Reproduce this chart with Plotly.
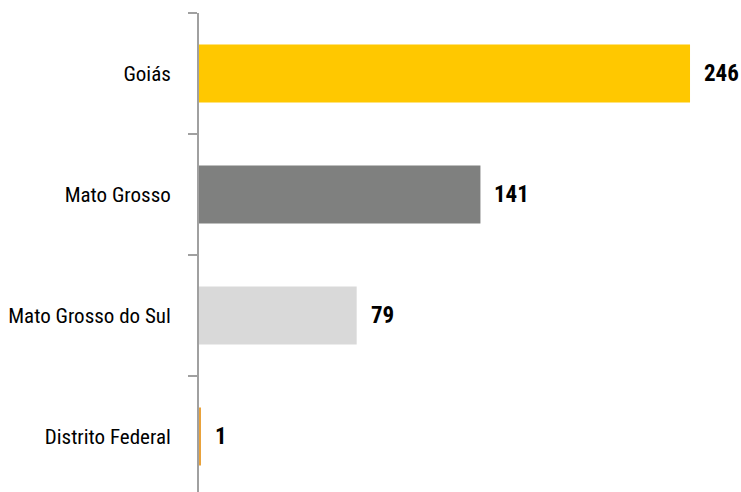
import plotly.graph_objects as go

# Registered units by state, Centro-Oeste region
states = ["Distrito Federal", "Mato Grosso do Sul", "Mato Grosso", "Goiás"]
counts = [1, 79, 141, 246]
colors = ["#E9A23B", "#D9D9D9", "#7F807F", "#FFC800"]

FONT = "Noto Sans ExtraCondensed, Noto Sans Condensed, Roboto Condensed, Liberation Sans Narrow, DejaVu Sans Condensed, sans-serif"

fig = go.Figure(
    go.Bar(
        x=counts,
        y=states,
        orientation="h",
        marker=dict(color=colors, line=dict(width=0)),
        hoverinfo="skip",
    )
)

# value labels beside each bar
for s, v in zip(states, counts):
    fig.add_annotation(
        x=v, y=s, text=f"<b>{v}</b>", showarrow=False,
        xanchor="left", yanchor="middle", xshift=12,
        font=dict(family=FONT, size=23, color="#000000"),
    )

plot_h = 492 - 13
cat_px = 121
fig.update_layout(
    width=741, height=492,
    margin=dict(l=199, r=0, t=13, b=0, autoexpand=False),
    paper_bgcolor="white", plot_bgcolor="white",
    bargap=0.52,
    showlegend=False,
    xaxis=dict(range=[0, 542 / 1.996], visible=False, fixedrange=True),
    yaxis=dict(
        type="category",
        categoryorder="array", categoryarray=states,
        range=[3.5 - plot_h / cat_px, 3.5],
        automargin=False,
        showline=True, linecolor="#A0A0A0", linewidth=2,
        ticks="outside", ticklen=9, tickcolor="#A0A0A0", tickwidth=2,
        tickson="boundaries",
        ticklabelstandoff=22,
        showgrid=False, zeroline=False,
        tickfont=dict(family=FONT, size=21, color="#000000"),
        fixedrange=True,
    ),
)

fig.write_html("out.html", config={"displayModeBar": False})
